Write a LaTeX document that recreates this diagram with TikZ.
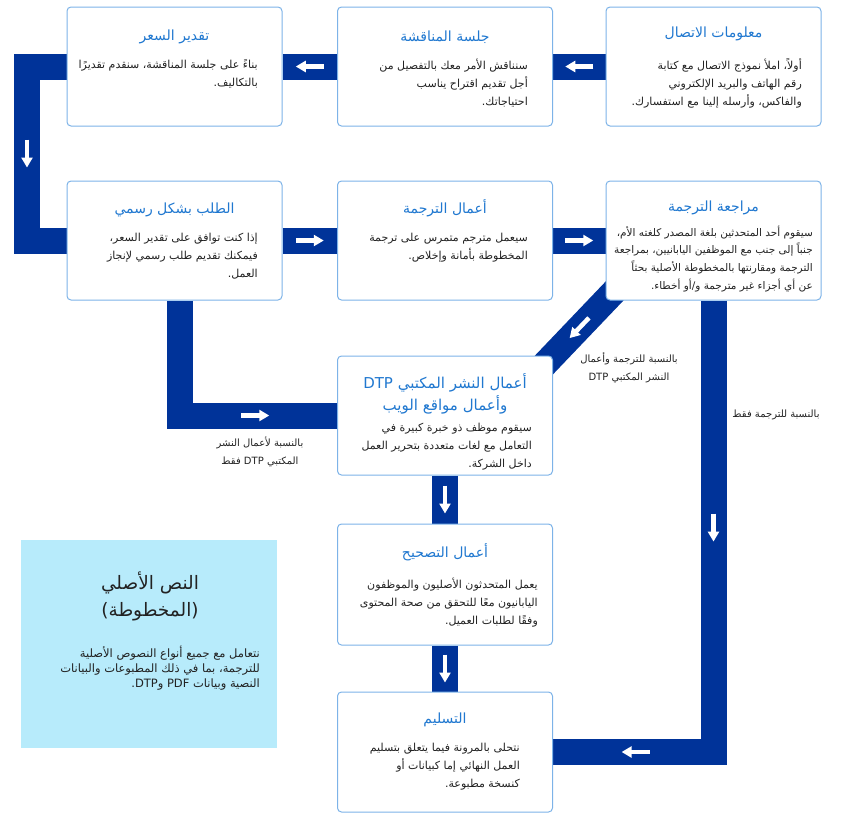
\documentclass[tikz,border=0pt]{standalone}
\usepackage{fontspec}
\newfontfamily\arabicfont[Script=Arabic]{DejaVu Sans}
\TeXXeTstate=1
\usetikzlibrary{arrows.meta,decorations.markings}
\pgfdeclarelayer{background}
\pgfsetlayers{background,main}
\definecolor{barblue}{HTML}{003399}
\definecolor{boxline}{HTML}{7DB3E8}
\definecolor{titleblue}{HTML}{2078D0}
\definecolor{textgray}{HTML}{222222}
\definecolor{notefill}{HTML}{B7EBFB}
\newcommand{\arline}[1]{\beginR #1\endR}
\newcommand{\latinrun}[1]{\beginL #1\endL}
\tikzset{
  flowbox/.style={draw=boxline, line width=1pt, fill=white, rounded corners=4pt,
    minimum width=215pt, minimum height=119pt, inner sep=0},
  flowtitle/.style={text=titleblue, align=center, inner sep=0,
    font=\arabicfont\fontsize{14}{22}\selectfont},
  flowtext/.style={text=textgray, align=right, inner sep=0, anchor=north east,
    font=\arabicfont\fontsize{11}{18}\selectfont},
  flowlabel/.style={text=textgray, align=center, inner sep=0,
    font=\arabicfont\fontsize{10}{18}\selectfont},
  flowbar/.style={draw=barblue, line width=26pt, line join=miter},
  whitearrow/.style={draw=white, line width=4.5pt, shorten <=0pt, shorten >=0pt,
    -{Triangle[length=10pt,width=11pt]}},
  flowmark/.style={postaction={decorate, decoration={markings,
    mark=at position #1 with {\draw[whitearrow] (-14pt,0) -- (14pt,0);}}}}
}
\begin{document}
\begin{tikzpicture}[x=1pt,y=-1pt]
\useasboundingbox (0,0) rectangle (856,822);
% row one
\node[flowbox] (infoA) at (713.5,66.5) {};
\node[flowtitle] (infoAtitle) at (713.5,34) {\arline{معلومات الاتصال}};
\node[flowtext] (infoAtext) at (802,58) {\arline{أولاً، املأ نموذج الاتصال مع كتابة}\\\arline{رقم الهاتف والبريد الإلكتروني}\\\arline{والفاكس، وأرسله إلينا مع استفسارك.}};
\node[flowbox] (meetB) at (445,66.5) {};
\node[flowtitle] (meetBtitle) at (445,37) {\arline{جلسة المناقشة}};
\node[flowtext] (meetBtext) at (528,59) {\arline{سنناقش الأمر معك بالتفصيل من}\\\arline{أجل تقديم اقتراح يناسب}\\\arline{احتياجاتك.}};
\node[flowbox] (priceC) at (174.5,66.5) {};
\node[flowtitle] (priceCtitle) at (174.5,37) {\arline{تقدير السعر}};
\node[flowtext] (priceCtext) at (258,59) {\arline{بناءً على جلسة المناقشة، سنقدم تقديرًا}\\\arline{بالتكاليف.}};
% row two
\node[flowbox] (orderD) at (174.5,240.5) {};
\node[flowtitle] (orderDtitle) at (174.5,210) {\arline{الطلب بشكل رسمي}};
\node[flowtext] (orderDtext) at (258,233) {\arline{إذا كنت توافق على تقدير السعر،}\\\arline{فيمكنك تقديم طلب رسمي لإنجاز}\\\arline{العمل.}};
\node[flowbox] (transE) at (445,240.5) {};
\node[flowtitle] (transEtitle) at (445,208) {\arline{أعمال الترجمة}};
\node[flowtext] (transEtext) at (528,233) {\arline{سيعمل مترجم متمرس على ترجمة}\\\arline{المخطوطة بأمانة وإخلاص.}};
\node[flowbox] (reviewF) at (713.5,240.5) {};
\node[flowtitle] (reviewFtitle) at (713.5,208) {\arline{مراجعة الترجمة}};
\node[flowtext, font=\arabicfont\fontsize{10.5}{17.7}\selectfont] (reviewFtext) at (813,225.5) {\arline{سيقوم أحد المتحدثين بلغة المصدر كلغته الأم،}\\\arline{جنباً إلى جنب مع الموظفين اليابانيين، بمراجعة}\\\arline{الترجمة ومقارنتها بالمخطوطة الأصلية بحثاً}\\\arline{عن أي أجزاء غير مترجمة و/أو أخطاء.}};
% middle column
\node[flowbox] (dtpG) at (445,415.5) {};
\node[flowtitle, font=\arabicfont\fontsize{15}{22}\selectfont] (dtpGtitle) at (445,394) {\arline{أعمال النشر المكتبي \latinrun{DTP}}\\\arline{وأعمال مواقع الويب}};
\node[flowtext] (dtpGtext) at (532,423) {\arline{سيقوم موظف ذو خبرة كبيرة في}\\\arline{التعامل مع لغات متعددة بتحرير العمل}\\\arline{داخل الشركة.}};
\node[flowbox, minimum height=121pt] (proofH) at (445,584.5) {};
\node[flowtitle] (proofHtitle) at (445,552) {\arline{أعمال التصحيح}};
\node[flowtext] (proofHtext) at (538,578) {\arline{يعمل المتحدثون الأصليون والموظفون}\\\arline{اليابانيون معًا للتحقق من صحة المحتوى}\\\arline{وفقًا لطلبات العميل.}};
\node[flowbox, minimum height=120pt] (deliverI) at (445,752) {};
\node[flowtitle] (deliverItitle) at (445,720) {\arline{التسليم}};
\node[flowtext] (deliverItext) at (520,743) {\arline{نتحلى بالمرونة فيما يتعلق بتسليم}\\\arline{العمل النهائي إما كبيانات أو}\\\arline{كنسخة مطبوعة.}};
% source text note
\node[fill=notefill, minimum width=256pt, minimum height=208pt, inner sep=0] (sourceN) at (149,644) {};
\node[text=textgray, align=center, inner sep=0, font=\arabicfont\fontsize{18.5}{27}\selectfont] (sourceNtitle) at (150,596.5) {\arline{النص الأصلي}\\\arline{(المخطوطة)}};
\node[flowtext, font=\arabicfont\fontsize{11.5}{15}\selectfont] (sourceNtext) at (260,646) {\arline{نتعامل مع جميع أنواع النصوص الأصلية}\\\arline{للترجمة، بما في ذلك المطبوعات والبيانات}\\\arline{النصية وبيانات \latinrun{PDF} و\latinrun{DTP}.}};
% route labels
\node[flowlabel] (dtpOnly) at (260,452) {\arline{بالنسبة لأعمال النشر}\\\arline{المكتبي \latinrun{DTP} فقط}};
\node[flowlabel] (transDtp) at (629,367.5) {\arline{بالنسبة للترجمة وأعمال}\\\arline{النشر المكتبي \latinrun{DTP}}};
\node[flowlabel] (transOnly) at (776,415) {\arline{بالنسبة للترجمة فقط}};
% bars
\begin{pgfonlayer}{background}
\draw[flowbar, flowmark=0.5] (infoA.west) -- (meetB.east);
\draw[flowbar, flowmark=0.5] (meetB.west) -- (priceC.east);
\draw[flowbar, flowmark=0.5] (priceC.west) -- ++(-39.5,0) |- (orderD.west);
\draw[flowbar, flowmark=0.5] (orderD.east) -- (transE.west);
\draw[flowbar, flowmark=0.5] (transE.east) -- (reviewF.west);
\draw[flowbar, flowmark=0.5, shorten <=-25pt, shorten >=-25pt] (reviewF.south west) -- (dtpG.north east);
\draw[flowbar, flowmark=0.7] ([xshift=5pt]orderD.south) |- (dtpG.west);
\draw[flowbar, flowmark=0.5] (dtpG.south) -- (proofH.north);
\draw[flowbar, flowmark=0.5] (proofH.south) -- (deliverI.north);
\draw[flowbar, flowmark=0.371, flowmark=0.865] (reviewF.south) |- (deliverI.east);
\end{pgfonlayer}
\end{tikzpicture}
\end{document}
